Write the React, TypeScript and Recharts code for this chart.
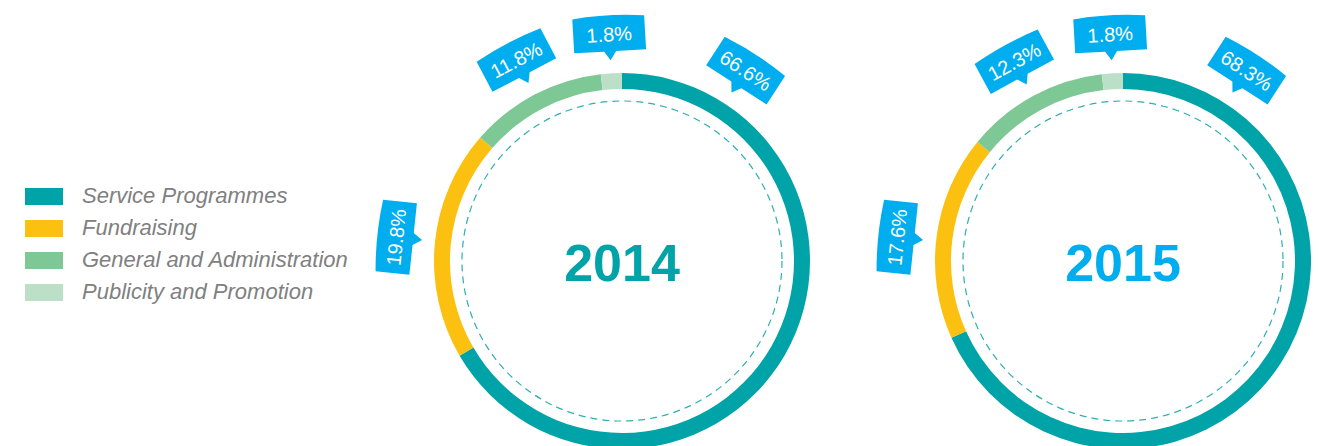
import { PieChart, Pie, Cell } from 'recharts';

const categories = ['Service Programmes', 'Fundraising', 'General and Administration', 'Publicity and Promotion'];
const colors = ['#00A3A8', '#FBC010', '#7EC896', '#BCE0C7'];
const values2014 = [66.6, 19.8, 11.8, 1.8];
const values2015 = [68.3, 17.6, 12.3, 1.8];
const years = ['2014', '2015'];
const yearColors = ['#00A3A8', '#00AEEF'];

// callouts that sit away from their slice midpoint (compass degrees, clockwise from top)
const calloutAngle: Record<string, number> = { 'Service Programmes': 33, Fundraising: -84 };

const CALLOUT_BLUE = '#00AEEF';
const FONT = '"Liberation Sans", Arial, Helvetica, sans-serif';

const toRows = (values: number[]) => categories.map((name, i) => ({ name, value: values[i] }));

const renderCallout = (props: any) => {
  const { cx, cy, midAngle, index, value } = props;
  const name = categories[index];
  const theta = calloutAngle[name] ?? 90 - midAngle;
  const rad = (theta * Math.PI) / 180;
  const R = 228;
  const x = cx + R * Math.sin(rad);
  const y = cy - R * Math.cos(rad);
  const text = `${Number(value).toFixed(1)}%`;
  const w = 72;
  const h = 36;
  return (
    <g transform={`translate(${x},${y}) rotate(${theta})`}>
      <path
        d={`M${-w / 2},${-h / 2 + 2} Q0,${-h / 2 - 2} ${w / 2},${-h / 2 + 2} L${w / 2},${h / 2} L6,${h / 2} L0,${h / 2 + 9} L-6,${h / 2} L${-w / 2},${h / 2} Z`}
        fill={CALLOUT_BLUE}
      />
      <text x={0} y={1} textAnchor="middle" dominantBaseline="central" fill="#fff" fontSize={20} fontFamily={FONT}>
        {text}
      </text>
    </g>
  );
};

// draws the dashed inner circle and the year, centred on the pie
const centerLabel = (year: string, color: string) => (props: any) => {
  const { cx, cy, outerRadius } = props;
  return (
    <g>
      <circle cx={cx} cy={cy} r={outerRadius} fill="none" stroke="#2FAFB0" strokeWidth={1.2} strokeDasharray="7 5" />
      <text x={cx} y={cy + 2} textAnchor="middle" dominantBaseline="central" fill={color} fontSize={52} fontWeight="bold" fontFamily={FONT}>
        {year}
      </text>
    </g>
  );
};

export default function App() {
  const series = [values2014, values2015];
  const centers = [622, 1123];
  return (
    <div style={{ position: 'absolute', left: 0, top: 0, width: 1319, height: 446, overflow: 'hidden', background: '#fff' }}>
      <div style={{ position: 'absolute', left: 25, top: 180, fontFamily: FONT }}>
        {categories.map((c, i) => (
          <div key={c} style={{ display: 'flex', alignItems: 'center', height: 32 }}>
            <div style={{ width: 38, height: 17, background: colors[i] }} />
            <span style={{ marginLeft: 19, fontSize: 22, fontStyle: 'italic', color: '#808080' }}>{c}</span>
          </div>
        ))}
      </div>
      <PieChart width={1319} height={446} margin={{ top: 0, right: 0, bottom: 0, left: 0 }}>
        {series.map((vals, s) => (
          <Pie
            key={years[s]}
            data={toRows(vals)}
            dataKey="value"
            nameKey="name"
            cx={centers[s]}
            cy={261}
            innerRadius={172}
            outerRadius={188}
            startAngle={90}
            endAngle={-270}
            stroke="none"
            label={renderCallout}
            labelLine={false}
            isAnimationActive={false}
          >
            {categories.map((c, i) => (
              <Cell key={c} fill={colors[i]} />
            ))}
          </Pie>
        ))}
        {series.map((_, s) => (
          <Pie
            key={`center-${years[s]}`}
            data={[{ name: years[s], value: 1 }]}
            dataKey="value"
            cx={centers[s]}
            cy={261}
            innerRadius={0}
            outerRadius={160}
            fill="none"
            stroke="none"
            label={centerLabel(years[s], yearColors[s])}
            labelLine={false}
            isAnimationActive={false}
          />
        ))}
      </PieChart>
    </div>
  );
}
